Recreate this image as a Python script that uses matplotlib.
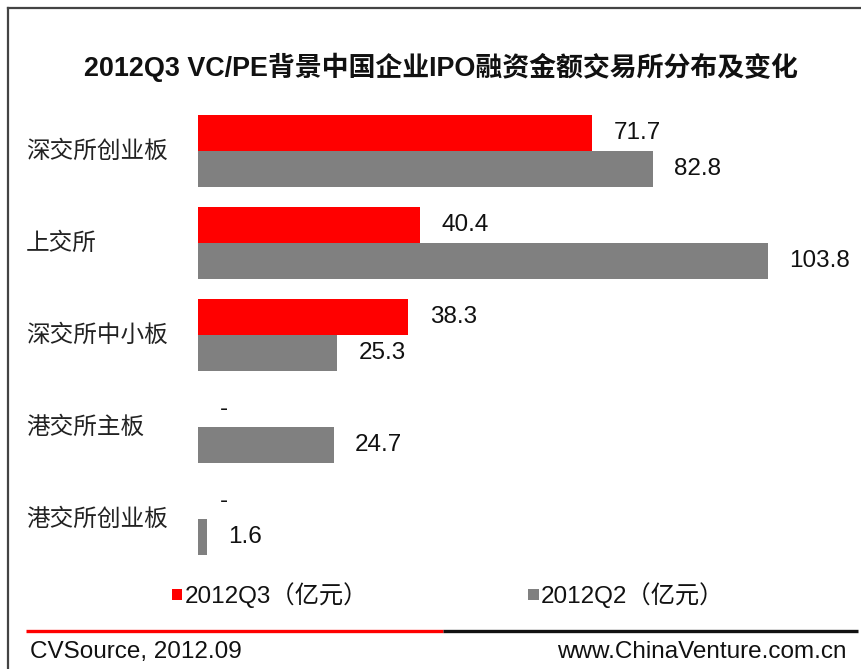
import matplotlib
matplotlib.use("Agg")
import matplotlib.pyplot as plt
from matplotlib.lines import Line2D
import numpy as np

# Data (亿元)
categories = ["深交所创业板", "上交所", "深交所中小板", "港交所主板", "港交所创业板"]
q3_values = [71.7, 40.4, 38.3, None, None]
q2_values = [82.8, 103.8, 25.3, 24.7, 1.6]
series_labels = ["2012Q3（亿元）", "2012Q2（亿元）"]
title = "2012Q3 VC/PE背景中国企业IPO融资金额交易所分布及变化"
source_text = "CVSource, 2012.09"
site_text = "www.ChinaVenture.com.cn"

RED = "#FF0000"
GRAY = "#808080"
CJK = ["Noto Sans CJK SC", "DejaVu Sans"]
MIXED = ["Liberation Sans", "Noto Sans CJK SC", "DejaVu Sans"]

W, H = 862, 669
fig = plt.figure(figsize=(W / 100, H / 100), dpi=100)
fig.patch.set_facecolor("white")

def fx(px):
    return px / W

def fy(py):
    return 1 - py / H

# Plot area in pixel terms
left_px, right_px, top_px, bottom_px = 198, 850, 100, 570
ax = fig.add_axes([fx(left_px), fy(bottom_px), fx(right_px - left_px), (bottom_px - top_px) / H])
px_per_unit = (768 - 198) / 103.8
ax.set_xlim(0, (right_px - left_px) / px_per_unit)
group_px = 92.0
ax.set_ylim(4 + (bottom_px - 519) / group_px, -(151 - top_px) / group_px)
ax.axis("off")

y = np.arange(len(categories))
bar_h = 36 / group_px
off = bar_h / 2

q3_num = [v if v is not None else 0 for v in q3_values]
b1 = ax.barh(y - off, q3_num, height=bar_h, color=RED, label=series_labels[0])
b2 = ax.barh(y + off, q2_values, height=bar_h, color=GRAY, label=series_labels[1])

label_font = dict(family=["Liberation Sans", "DejaVu Sans"], size=17.5, color="#111111")
for yi, v in zip(y, q3_values):
    txt = f"{v:.1f}" if v is not None else "-"
    ax.annotate(txt, xy=(v if v is not None else 0, yi - off), xytext=(15.5, 0),
                textcoords="offset points", va="center", ha="left", **label_font)
for yi, v in zip(y, q2_values):
    ax.annotate(f"{v:.1f}", xy=(v, yi + off), xytext=(15.5, 0),
                textcoords="offset points", va="center", ha="left", **label_font)

# Category labels, left aligned
for yi, name in zip(y, categories):
    py = 151 + yi * group_px
    fig.text(fx(26), fy(py), name, ha="left", va="center", family=CJK,
             size=17, color="#222222")

# Title
fig.text(fx(441), fy(67), title, ha="center", va="center", family=MIXED,
         weight="bold", size=19.4, color="#111111")

# Legend
leg = ax.legend(handles=[b1, b2], labels=series_labels, ncol=2, frameon=False,
                loc="center left", bbox_to_anchor=(fx(172), fy(595)),
                bbox_transform=fig.transFigure,
                handlelength=0.42, handleheight=0.3, handletextpad=0.1,
                columnspacing=6.6, borderpad=0, borderaxespad=0,
                prop=dict(family=MIXED, size=17.5))
for t in leg.get_texts():
    t.set_color("#111111")

# Frame lines
fig.add_artist(Line2D([fx(8), fx(862)], [fy(8), fy(8)], color="#444444", lw=1.6,
                      transform=fig.transFigure))
fig.add_artist(Line2D([fx(8), fx(8)], [fy(8), fy(669)], color="#444444", lw=1.6,
                      transform=fig.transFigure))

# Footer rule: red then black
fig.add_artist(Line2D([fx(26), fx(443)], [fy(631), fy(631)], color=RED, lw=2.4,
                      transform=fig.transFigure, solid_capstyle="butt"))
fig.add_artist(Line2D([fx(443), fx(858)], [fy(631), fy(631)], color="#111111", lw=2.4,
                      transform=fig.transFigure, solid_capstyle="butt"))

fig.text(fx(30), fy(652), source_text, ha="left", va="center",
         family=["Liberation Sans", "DejaVu Sans"], size=17.5, color="#111111")
fig.text(fx(847), fy(652), site_text, ha="right", va="center",
         family=["Liberation Sans", "DejaVu Sans"], size=17.5, color="#111111")

fig.savefig("out.png", dpi=100, facecolor="white")
